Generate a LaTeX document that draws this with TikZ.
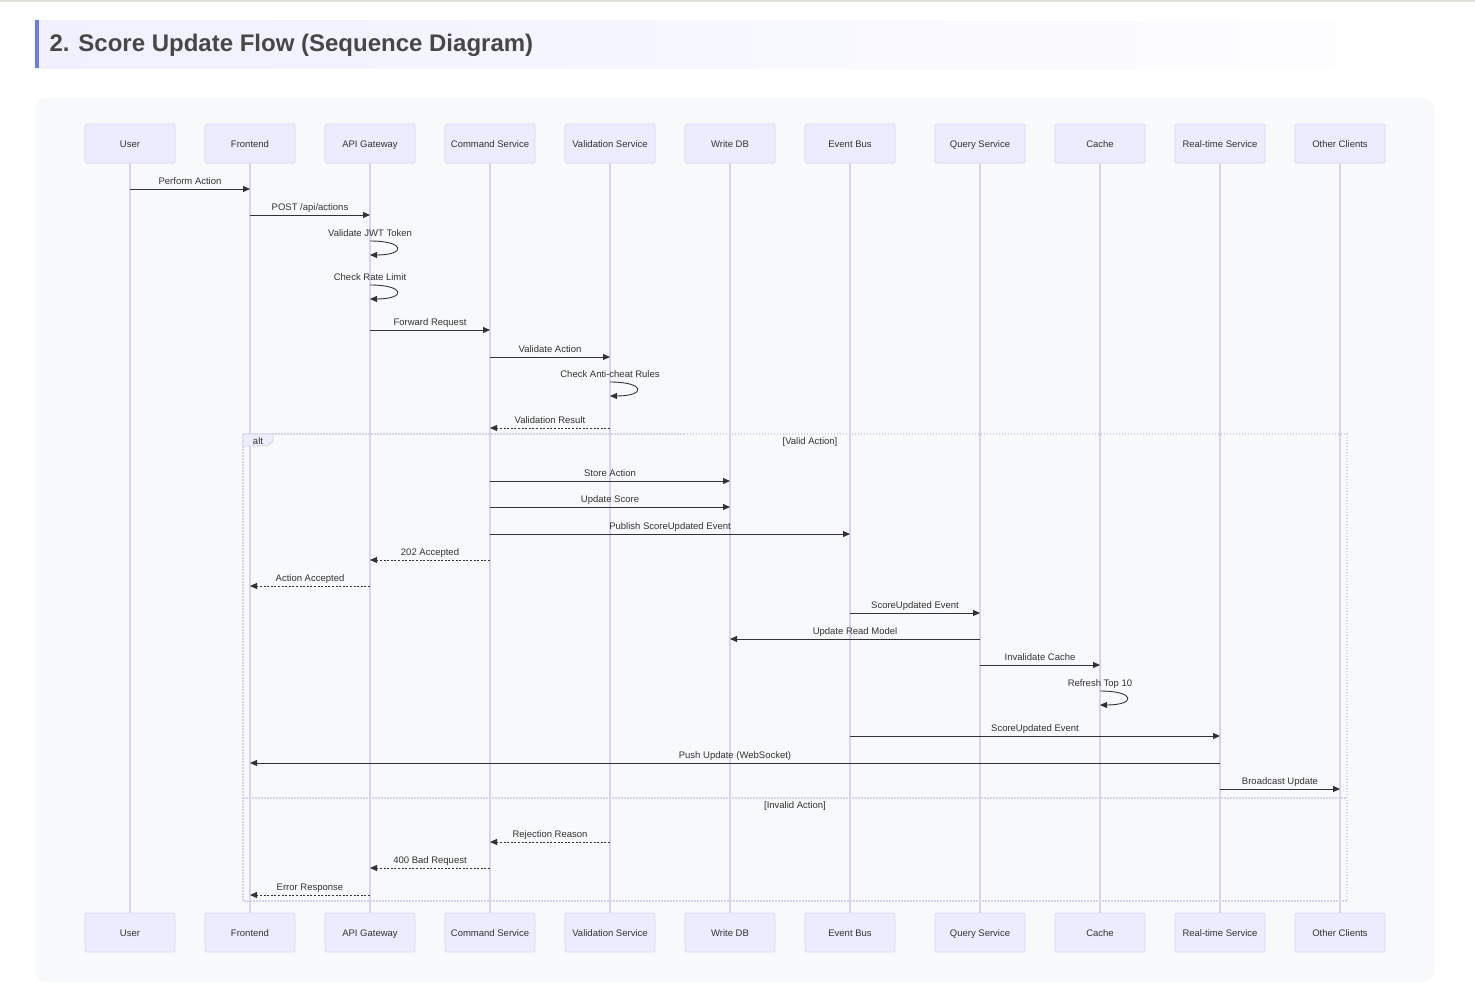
\documentclass[tikz,border=0pt]{standalone}
\usepackage{xcolor}
\usepackage{fontspec}
\setmainfont{Liberation Sans}
\usepackage{tikz}
\usetikzlibrary{arrows.meta, positioning}

\definecolor{boxfill}{HTML}{ECECFF}
\definecolor{boxline}{HTML}{DDD5F5}
\definecolor{lifeline}{HTML}{DCD0F3}
\definecolor{panel}{HTML}{F8F9FB}
\definecolor{inkdark}{HTML}{333333}
\definecolor{titleink}{HTML}{474747}
\definecolor{titlefill}{HTML}{F0F0FF}
\definecolor{topline}{HTML}{DFE4DA}
\definecolor{accent}{HTML}{6A7EE6}
\definecolor{altline}{HTML}{D6D2EC}

\begin{document}
\begin{tikzpicture}[
                x=1pt, y=-1pt,
                actor/.style={draw=boxline, fill=boxfill, line width=0.8pt, minimum width=90pt, minimum height=39pt, rounded corners=1.5pt, text=inkdark, text height=8pt, text depth=1pt, font=\fontsize{9.5}{11}\selectfont},
                life/.style={draw=lifeline, line width=1.1pt},
                msg/.style={-{Triangle[length=7pt, width=6pt]}, draw=inkdark, line width=0.9pt},
                reply/.style={msg, dash pattern=on 2pt off 1.6pt},
                lbl/.style={anchor=base, yshift=4.5pt, inner sep=0pt, text=inkdark, font=\fontsize{9.5}{11}\selectfont},
                frame/.style={draw=altline, line width=1.2pt, dash pattern=on 1.5pt off 1.5pt},
                guard/.style={inner sep=0pt, text=inkdark, font=\fontsize{9.5}{11}\selectfont}
            ]
            \useasboundingbox (0,0) rectangle (1475,994);

            % Page and title
            \fill[white] (0,0) rectangle (1475,994);
            \draw[draw=topline, line width=1.5pt] (0,0.8) -- (1475,0.8);
            \shade[left color=titlefill, right color=white] (35,20) rectangle (1475,68);
            \fill[accent] (35,20) rectangle (39,68);
            \node[anchor=west, text=titleink, font=\fontsize{24}{28}\bfseries\selectfont] (title) at (46,45.5) {2. Score Update Flow (Sequence Diagram)};

            % Diagram panel
            \fill[panel, rounded corners=12pt] (35,98) rectangle (1435,982);

            % Participants and lifelines
            \foreach \n/\x/\t in {user/130/User, front/250/Frontend, api/370/API Gateway, cmd/490/Command Service, valid/610/Validation Service, wdb/730/Write DB, bus/850/Event Bus, query/980/Query Service, cache/1100/Cache, rts/1220/Real-time Service, others/1340/Other Clients} {
                \node[actor] (\n) at (\x,143.5) {\t};
                \node[actor] (\n-b) at (\x,932.5) {\t};
                \draw[life] (\n) -- (\n-b);
            }

            % Alt frame
            \draw[frame] (243,434) rectangle (1347,901);
            \draw[frame] (243,798) -- (1347,798);
            \filldraw[fill=boxfill, draw=altline, line width=0.8pt] (243,434) -- (273,434) -- (273,441) -- (268,446) -- (243,446) -- cycle;
            \node[guard] (alt) at (258,441) {alt};
            \node[guard] (validcase) at (810,442) {[Valid Action]};
            \node[guard] (invalidcase) at (795,806.5) {[Invalid Action]};

            % Request path
            \draw[msg] (user |- 0,189) -- node[lbl] {Perform Action} (front |- 0,189);
            \draw[msg] (front |- 0,215) -- node[lbl] {POST /api/actions} (api |- 0,215);
            \node[lbl] (jwt) at (api |- 0,241) {Validate JWT Token};
            \draw[msg] (api |- 0,241) .. controls +(36,0) and +(36,0) .. (api |- 0,255);
            \node[lbl] (rate) at (api |- 0,285) {Check Rate Limit};
            \draw[msg] (api |- 0,285) .. controls +(36,0) and +(36,0) .. (api |- 0,299);
            \draw[msg] (api |- 0,330) -- node[lbl] {Forward Request} (cmd |- 0,330);
            \draw[msg] (cmd |- 0,357) -- node[lbl] {Validate Action} (valid |- 0,357);
            \node[lbl] (cheat) at (valid |- 0,382) {Check Anti-cheat Rules};
            \draw[msg] (valid |- 0,382) .. controls +(36,0) and +(36,0) .. (valid |- 0,396);
            \draw[reply] (valid |- 0,428) -- node[lbl] {Validation Result} (cmd |- 0,428);

            % Valid action
            \draw[msg] (cmd |- 0,481) -- node[lbl] {Store Action} (wdb |- 0,481);
            \draw[msg] (cmd |- 0,507) -- node[lbl] {Update Score} (wdb |- 0,507);
            \draw[msg] (cmd |- 0,534) -- node[lbl] {Publish ScoreUpdated Event} (bus |- 0,534);
            \draw[reply] (cmd |- 0,560) -- node[lbl] {202 Accepted} (api |- 0,560);
            \draw[reply] (api |- 0,586) -- node[lbl] {Action Accepted} (front |- 0,586);
            \draw[msg] (bus |- 0,613) -- node[lbl] {ScoreUpdated Event} (query |- 0,613);
            \draw[msg] (query |- 0,639) -- node[lbl] {Update Read Model} (wdb |- 0,639);
            \draw[msg] (query |- 0,665) -- node[lbl] {Invalidate Cache} (cache |- 0,665);
            \node[lbl] (refresh) at (cache |- 0,691) {Refresh Top 10};
            \draw[msg] (cache |- 0,691) .. controls +(36,0) and +(36,0) .. (cache |- 0,705);
            \draw[msg] (bus |- 0,736) -- node[lbl] {ScoreUpdated Event} (rts |- 0,736);
            \draw[msg] (rts |- 0,763) -- node[lbl] {Push Update (WebSocket)} (front |- 0,763);
            \draw[msg] (rts |- 0,789) -- node[lbl] {Broadcast Update} (others |- 0,789);

            % Invalid action
            \draw[reply] (valid |- 0,842) -- node[lbl] {Rejection Reason} (cmd |- 0,842);
            \draw[reply] (cmd |- 0,868) -- node[lbl] {400 Bad Request} (api |- 0,868);
            \draw[reply] (api |- 0,895) -- node[lbl] {Error Response} (front |- 0,895);
            \end{tikzpicture}
\end{document}
